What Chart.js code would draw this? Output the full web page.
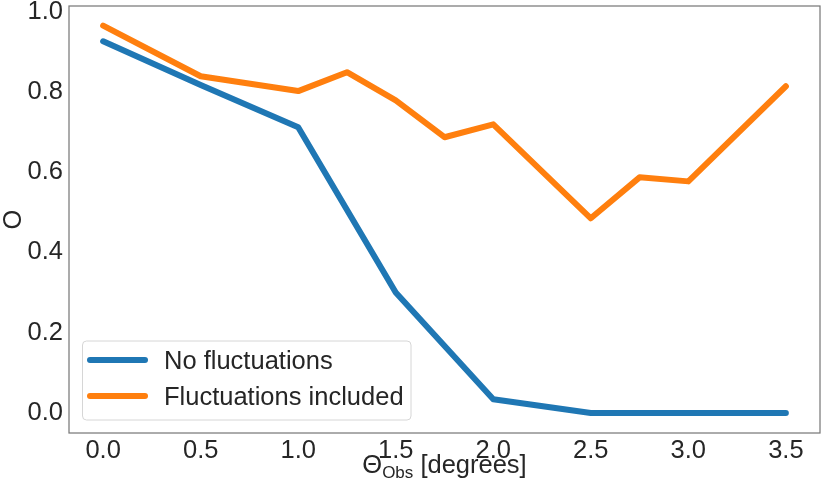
<!DOCTYPE html>
<html>
<head>
<meta charset="utf-8">
<script src="https://cdn.jsdelivr.net/npm/chart.js@4/dist/chart.umd.min.js"></script>
<style>
  html, body { margin: 0; padding: 0; background: #fff; }
  #c { display: block; }
</style>
</head>
<body>
<canvas id="c" width="822" height="493"></canvas>
<script>
// values
const blueX = [0, 0.5, 1.0, 1.5, 2.0, 2.5, 3.0, 3.5];
const blueY = [0.926, 0.817, 0.712, 0.300, 0.034, 0.0, 0.0, 0.0];
const orangeX = [0, 0.5, 1.0, 1.25, 1.5, 1.75, 2.0, 2.5, 2.75, 3.0, 3.5];
const orangeY = [0.965, 0.839, 0.802, 0.849, 0.779, 0.687, 0.719, 0.485, 0.587, 0.577, 0.814];
const seriesNames = ['No fluctuations', 'Fluctuations included'];
const xTicks = [0, 0.5, 1.0, 1.5, 2.0, 2.5, 3.0, 3.5];
const yTicks = [0, 0.2, 0.4, 0.6, 0.8, 1.0];

const FONT = "'Liberation Sans', Arial, sans-serif";
const FS = 25.5;
const TEXT = '#262626';
const BLUE = '#1f77b4', ORANGE = '#ff7f0e';
const LW = 6;

const pts = (xs, ys) => xs.map((x, i) => ({ x: x, y: ys[i] }));

// frame, axis titles and legend
const decor = {
  id: 'decor',
  afterDraw(chart) {
    const ctx = chart.ctx, a = chart.chartArea;
    ctx.save();
    ctx.strokeStyle = '#7a7a7a';
    ctx.lineWidth = 1.25;
    ctx.strokeRect(a.left, a.top, a.right - a.left, a.bottom - a.top);

    // x title with subscript
    ctx.fillStyle = TEXT;
    ctx.textBaseline = 'alphabetic';
    ctx.textAlign = 'left';
    const big = FS + 'px ' + FONT, small = '17px ' + FONT;
    ctx.font = big; const w1 = ctx.measureText('\u0398').width;
    ctx.font = small; const w2 = ctx.measureText('Obs').width;
    ctx.font = big; const w3 = ctx.measureText(' [degrees]').width;
    let x = (a.left + a.right) / 2 - (w1 + w2 + w3) / 2;
    const base = 473;
    ctx.font = big; ctx.fillText('\u0398', x, base); x += w1;
    ctx.font = small; ctx.fillText('Obs', x, base + 5); x += w2;
    ctx.font = big; ctx.fillText(' [degrees]', x, base);

    // y title
    ctx.save();
    ctx.translate(20.5, (a.top + a.bottom) / 2);
    ctx.rotate(-Math.PI / 2);
    ctx.textAlign = 'center';
    ctx.font = big;
    ctx.fillText('O', 0, 0);
    ctx.restore();

    // legend
    const lx = 82.5, ly = 341, lw = 328.5, lh = 79, r = 4;
    ctx.beginPath();
    ctx.moveTo(lx + r, ly);
    ctx.arcTo(lx + lw, ly, lx + lw, ly + lh, r);
    ctx.arcTo(lx + lw, ly + lh, lx, ly + lh, r);
    ctx.arcTo(lx, ly + lh, lx, ly, r);
    ctx.arcTo(lx, ly, lx + lw, ly, r);
    ctx.closePath();
    ctx.fillStyle = 'rgba(255,255,255,0.8)';
    ctx.fill();
    ctx.strokeStyle = '#d6d6d6';
    ctx.lineWidth = 1;
    ctx.stroke();

    chart.data.datasets.forEach((ds, i) => {
      const yy = 360 + i * 36;
      ctx.beginPath();
      ctx.moveTo(90, yy);
      ctx.lineTo(145, yy);
      ctx.strokeStyle = ds.borderColor;
      ctx.lineWidth = LW;
      ctx.lineCap = 'round';
      ctx.stroke();
      ctx.fillStyle = TEXT;
      ctx.font = big;
      ctx.textAlign = 'left';
      ctx.fillText(ds.label, 164, yy + 9);
    });
    ctx.restore();
  }
};

new Chart(document.getElementById('c'), {
  type: 'line',
  data: {
    datasets: [
      { label: seriesNames[0], data: pts(blueX, blueY), borderColor: BLUE },
      { label: seriesNames[1], data: pts(orangeX, orangeY), borderColor: ORANGE }
    ]
  },
  options: {
    responsive: false,
    devicePixelRatio: 1,
    animation: false,
    layout: { padding: { top: 6, right: 2, left: 0, bottom: 0 } },
    elements: {
      line: { borderWidth: LW, tension: 0, fill: false, borderCapStyle: 'round', borderJoinStyle: 'round' },
      point: { radius: 0, hoverRadius: 0 }
    },
    plugins: { legend: { display: false }, tooltip: { enabled: false } },
    scales: {
      x: {
        type: 'linear',
        min: -0.175, max: 3.675,
        grid: { display: false, drawTicks: false },
        border: { display: false },
        afterBuildTicks: ax => { ax.ticks = xTicks.map(v => ({ value: v })); },
        afterFit: ax => { ax.height = 60; ax.paddingLeft = 0; ax.paddingRight = 0; },
        ticks: {
          padding: 3, color: TEXT, maxRotation: 0, autoSkip: false,
          font: { family: FONT, size: FS },
          callback: v => v.toFixed(1)
        }
      },
      y: {
        type: 'linear',
        min: -0.05, max: 1.014,
        grid: { display: false, drawTicks: false },
        border: { display: false },
        afterBuildTicks: ax => { ax.ticks = yTicks.map(v => ({ value: v })); },
        afterFit: ax => { ax.width = 69; ax.paddingTop = 0; ax.paddingBottom = 0; },
        ticks: {
          padding: 6, color: TEXT, autoSkip: false,
          font: { family: FONT, size: FS },
          callback: v => v.toFixed(1)
        }
      }
    }
  },
  plugins: [decor]
});
</script>
</body>
</html>
